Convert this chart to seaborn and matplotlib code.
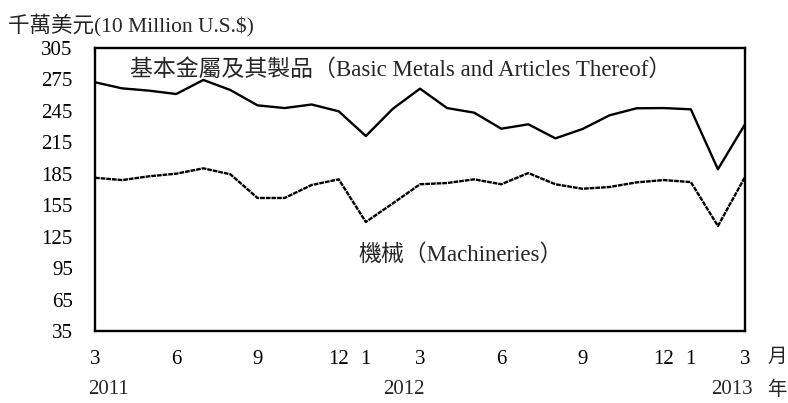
import numpy as np
import pandas as pd
import matplotlib
matplotlib.use("Agg")
import matplotlib.pyplot as plt
import seaborn as sns

# 2011/3 - 2013/3 (25 months)
months = list(range(25))
month_labels = ['3', '', '', '6', '', '', '9', '', '', '12', '1', '', '3', '', '',
                '6', '', '', '9', '', '', '12', '1', '', '3']
years = ['2011', '2012', '2013']
year_pos = [0.5, 11.4, 23.5]

basic_metals = [272.3, 266.5, 264.3, 261.1, 274.5, 264.9, 250.3, 247.7, 251.1,
                244.6, 221.0, 247.1, 266.2, 247.7, 243.3, 228.0, 232.2, 218.8,
                227.7, 240.8, 247.5, 247.7, 246.5, 189.3, 232.2]
machineries = [181.2, 179.0, 182.6, 185.1, 190.2, 184.5, 161.9, 161.9, 174.3,
               179.7, 139.0, 156.8, 175.0, 176.2, 179.7, 175.0, 185.7, 175.0,
               170.7, 172.4, 176.8, 179.0, 177.1, 135.2, 181.9]

yticks = list(range(35, 306, 30))

sns.set_style("white")
plt.rcParams['font.family'] = ['Liberation Serif', 'Noto Sans CJK TC', 'DejaVu Sans']

df = pd.DataFrame({'month': months, 'basic': basic_metals, 'mach': machineries})

fig = plt.figure(figsize=(7.88, 4.03), dpi=100)
ax = fig.add_axes([95 / 788, 1 - 331 / 403, 650 / 788, 283 / 403])

sns.lineplot(data=df, x='month', y='basic', ax=ax, color='black', linewidth=1.7)
sns.lineplot(data=df, x='month', y='mach', ax=ax, color='black', linewidth=1.7,
             linestyle=(0, (2, 0.4)))

ax.set_xlim(0, 24)
ax.set_ylim(35, 305)
ax.set_yticks(yticks)
ax.set_xticks(months)
ax.set_xticklabels(month_labels)
ax.set_xlabel('')
ax.set_ylabel('')
ax.tick_params(axis='both', direction='in', length=5, width=1.2, color='black',
               labelsize=15, labelcolor='black')
ax.tick_params(axis='y', pad=16)
ax.tick_params(axis='x', pad=14)
ax.tick_params(axis='x', length=4)
for s in ax.spines.values():
    s.set_visible(True)
    s.set_color('black')
    s.set_linewidth(1.7)

ax.text(1.29, 284, '基本金屬及其製品（Basic Metals and Articles Thereof）',
        fontsize=16.5, va='center', ha='left')
ax.text(9.71, 107.5, '機械（Machineries）', fontsize=16.5, va='center', ha='left')

for y, p in zip(years, year_pos):
    ax.text(p, -0.205, y, transform=ax.get_xaxis_transform(), fontsize=15,
            ha='center', va='center')

fig.text(8 / 788, 1 - 25 / 403, '千萬美元(10 Million U.S.$)', fontsize=15.5,
         ha='left', va='center')
fig.text(777 / 788, 1 - 357 / 403, '月', fontsize=14, ha='center', va='center')
fig.text(777 / 788, 1 - 390 / 403, '年', fontsize=14, ha='center', va='center')

fig.savefig('out.png', dpi=100)
